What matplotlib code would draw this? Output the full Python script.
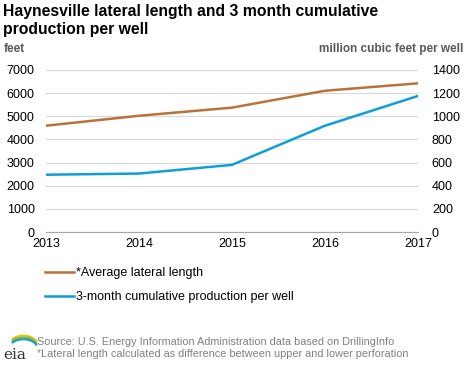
import numpy as np
import matplotlib.pyplot as plt
from matplotlib.patches import Arc

plt.rcParams['font.family'] = ['Liberation Sans', 'DejaVu Sans']

years = [2013, 2014, 2015, 2016, 2017]
lateral = [4590, 5020, 5370, 6100, 6420]
production = [495, 505, 580, 918, 1175]

orange = '#b8733a'
blue = '#0f9ed5'

fig = plt.figure(figsize=(4.68, 3.66), dpi=100)
ax = fig.add_axes([0.098, 0.366, 0.795, 0.443])
ax2 = ax.twinx()

l1, = ax.plot(years, lateral, color=orange, lw=1.8)
l2, = ax2.plot(years, production, color=blue, lw=1.8)

ax.set_xlim(2013, 2017)
ax.set_ylim(0, 7000)
ax2.set_ylim(0, 1400)
ax.set_yticks(range(0, 7001, 1000))
ax2.set_yticks(range(0, 1401, 200))
ax.set_xticks(years)
ax.grid(axis='y', color='#d9d9d9', lw=0.9)
ax.set_axisbelow(True)
for a in (ax, ax2):
    for s in a.spines.values():
        s.set_visible(False)
    a.tick_params(length=0, labelsize=9, colors='black')
ax.spines['bottom'].set_visible(True)
ax.spines['bottom'].set_color('#a6a6a6')
ax.tick_params(axis='y', pad=8)
ax2.tick_params(axis='y', pad=10)
ax.tick_params(axis='x', pad=4)

fig.text(0.006, 0.988, 'Haynesville lateral length and 3 month cumulative\nproduction per well',
         fontsize=11.3, fontweight='bold', va='top', linespacing=1.2)
fig.text(0.008, 0.858, 'feet', fontsize=8.5, color='#595959', fontweight='bold')
fig.text(0.99, 0.858, 'million cubic feet per well', fontsize=8.5, color='#595959',
         fontweight='bold', ha='right')

fig.legend([l1, l2], ['*Average lateral length', '3-month cumulative production per well'],
           loc='upper left', bbox_to_anchor=(0.085, 0.283), frameon=False, fontsize=9,
           handlelength=2.3, handletextpad=0.2, labelspacing=0.95, borderaxespad=0)

fig.text(0.08, 0.018, 'Source: U.S. Energy Information Administration data based on DrillingInfo\n'
         '*Lateral length calculated as difference between upper and lower perforation',
         fontsize=7.8, color='#808080', va='bottom', linespacing=1.25)

# eia logo
fig.text(0.008, 0.018, 'eia', fontsize=11, family='DejaVu Serif', color='#333333')
for i, c in enumerate(['#f2c400', '#7ab648', '#0f9ed5']):
    arc = Arc((0.05, 0.058 - i * 0.005), 0.06, 0.05, theta1=15, theta2=150,
              transform=fig.transFigure, color=c, lw=1.5)
    fig.add_artist(arc)

fig.savefig('out.png', dpi=100)
